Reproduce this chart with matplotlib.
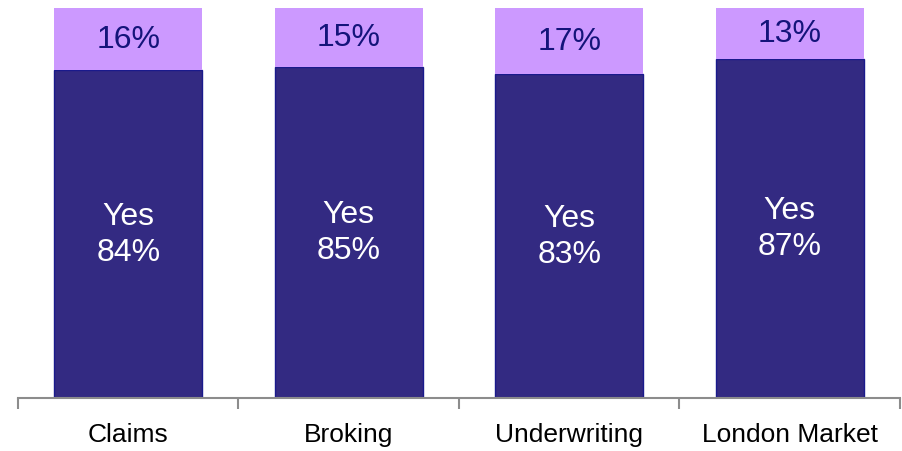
import matplotlib
matplotlib.use("Agg")
import matplotlib.pyplot as plt
import numpy as np

categories = ["Claims", "Broking", "Underwriting", "London Market"]
yes_pct = [84, 85, 83, 87]
no_pct = [16, 15, 17, 13]

plt.rcParams['font.family'] = ['Liberation Sans', 'DejaVu Sans']

fig = plt.figure(figsize=(9.03, 4.52), dpi=100)
ax = fig.add_axes([18 / 903, 53 / 452, 882 / 903, 390 / 452])

x = np.arange(len(categories))
width = 0.67
dark = "#332a82"
light = "#cc99ff"

ax.bar(x, yes_pct, width, color=dark, edgecolor="#1a1a8c", linewidth=1.0)
ax.bar(x, no_pct, width, bottom=yes_pct, color=light, edgecolor="none")

for xi, y, n in zip(x, yes_pct, no_pct):
    ax.text(xi, y / 2, f"Yes\n{y}%", ha="center", va="center",
            color="white", fontsize=23, linespacing=1.25)
    ax.text(xi, y + n / 2, f"{n}%", ha="center", va="center",
            color="#14147a", fontsize=23)

ax.set_xlim(-0.5, len(categories) - 0.5)
ax.set_ylim(0, 100)
for s in ["left", "right", "top"]:
    ax.spines[s].set_visible(False)
ax.spines["bottom"].set_color("#8c8c8c")
ax.spines["bottom"].set_linewidth(1.5)
ax.set_yticks([])

ax.set_xticks(x)
ax.set_xticklabels(categories, fontsize=19)
ax.tick_params(axis="x", which="major", length=0, pad=17)
ax.set_xticks(np.arange(-0.5, len(categories)), minor=True)
ax.tick_params(axis="x", which="minor", length=8, width=1.5, color="#8c8c8c")

fig.savefig("out.png", dpi=100)
